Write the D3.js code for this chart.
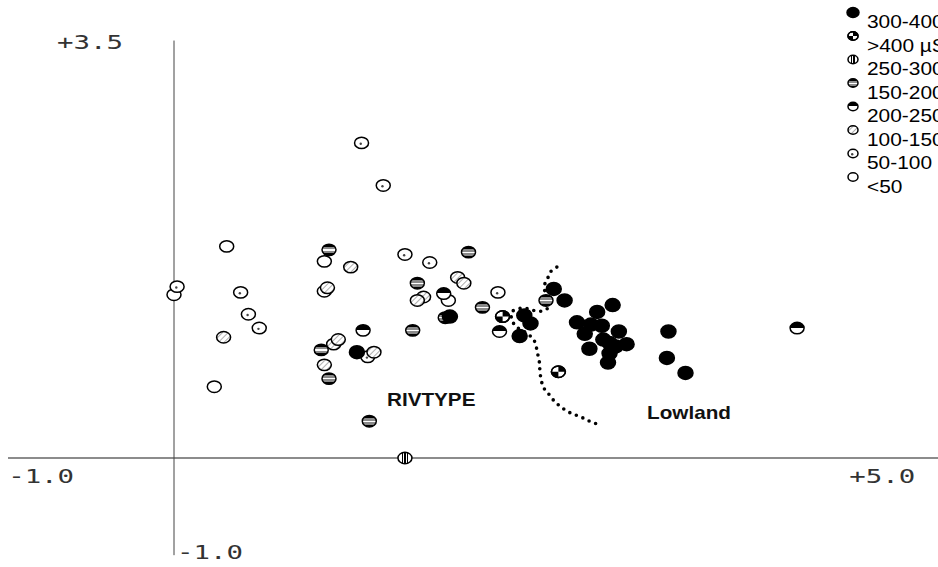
<!DOCTYPE html>
<html><head><meta charset="utf-8">
<script src="https://cdn.jsdelivr.net/npm/d3@7"></script>
<style>body{margin:0;background:#fff;overflow:hidden}</style>
</head><body>
<svg id="chart" width="938" height="567"></svg>
<script>
// ---- data ----
const classKeys = ["c300", "c400", "c250", "c150", "c200", "c100", "c50", "c0"];
const legendLabels = ["300-400", ">400 \u00b5S", "250-300", "150-200", "200-250", "100-150", "50-100", "<50"];

const pointX = [
  0.34, 0.00, 0.26, 0.97, 1.77,
  1.21, 1.35, 0.02, 0.43, 0.48, 0.55, 1.49, 1.65, 2.09, 0.97, 1.25,
  0.32, 1.14, 0.99, 1.83, 1.87, 1.61, 1.57, 1.03, 1.06, 1.29, 0.97,
  1.90, 1.57, 1.99, 1.75, 1.54, 2.40, 1.26, 1.00, 0.95, 1.00,
  1.74, 2.10, 1.22, 4.02,
  1.49,
  2.12, 2.48,
  1.18, 1.78, 2.45, 2.52, 2.26, 2.30, 2.23, 2.60, 2.73, 2.83, 2.69, 2.76, 2.87,
  2.65, 2.77, 2.68, 2.81, 2.92, 2.85, 2.81, 2.80, 3.19, 3.18, 3.30
];
const pointY = [
  1.84, 1.42, 0.62, 1.71, 1.37,
  2.74, 2.37, 1.49, 1.44, 1.25, 1.13, 1.77, 1.70, 1.44, 1.45, 0.88,
  1.05, 1.66, 1.48, 1.57, 1.52, 1.40, 1.37, 0.99, 1.03, 0.92, 0.81,
  1.79, 1.52, 1.31, 1.22, 1.11, 1.37, 0.32, 0.69, 0.94, 1.81,
  1.43, 1.10, 1.11, 1.13,
  0.00,
  1.23, 0.75,
  0.92, 1.23, 1.47, 1.37, 1.24, 1.17, 1.06, 1.18, 1.27, 1.33, 1.16, 1.15, 1.10,
  1.08, 1.03, 0.95, 1.00, 0.99, 0.97, 0.91, 0.83, 1.10, 0.87, 0.74
];
const pointClass = [
  "c0", "c0", "c0", "c0", "c0",
  "c50", "c50", "c50", "c50", "c50", "c50", "c50", "c50", "c50", "c50", "c50",
  "c100", "c100", "c100", "c100", "c100", "c100", "c100", "c100", "c100", "c100", "c100",
  "c150", "c150", "c150", "c150", "c150", "c150", "c150", "c150", "c150", "c150",
  "c200", "c200", "c200", "c200",
  "c250",
  "c400", "c400",
  "c300", "c300", "c300", "c300", "c300", "c300", "c300", "c300", "c300", "c300", "c300", "c300", "c300",
  "c300", "c300", "c300", "c300", "c300", "c300", "c300", "c300", "c300", "c300", "c300"
];

const boundaryX = [2.47, 2.43, 2.41, 2.39, 2.40, 2.43, 2.38, 2.33, 2.28, 2.23, 2.18, 2.18, 2.21, 2.27,
  2.32, 2.34, 2.35, 2.36, 2.36, 2.37, 2.38, 2.41, 2.45, 2.50, 2.56, 2.62, 2.68, 2.72];
const boundaryY = [1.66, 1.62, 1.56, 1.50, 1.41, 1.33, 1.28, 1.28, 1.30, 1.30, 1.27, 1.20, 1.14, 1.09,
  1.03, 0.95, 0.88, 0.81, 0.75, 0.68, 0.62, 0.57, 0.50, 0.44, 0.39, 0.36, 0.32, 0.30];

const axisLabels = ["+3.5", "-1.0", "+5.0", "-1.0"];
const siteLabels = ["RIVTYPE", "Lowland"];
const siteX = [1.374, 3.052];
const siteY = [0.452, 0.339];

// ---- drawing ----
const svg = d3.select("#chart");
const x = d3.scaleLinear().domain([-1, 5]).range([19, 949]);
const y = d3.scaleLinear().domain([-1, 3.5]).range([573, 55.5]);

const defs = svg.append("defs");
function hardGrad(id, stops, horiz) {
  const g = defs.append("linearGradient").attr("id", id)
    .attr("x1", 0).attr("y1", 0).attr("x2", horiz ? 1 : 0).attr("y2", horiz ? 0 : 1);
  stops.forEach(s => g.append("stop").attr("offset", s[0]).attr("stop-color", s[1]));
}
hardGrad("g150", [[0, "#000"], [0.22, "#000"], [0.22, "#8a8a8a"], [0.45, "#8a8a8a"], [0.45, "#fff"],
  [0.57, "#fff"], [0.57, "#8a8a8a"], [0.8, "#8a8a8a"], [0.8, "#000"], [1, "#000"]]);
hardGrad("g200", [[0, "#000"], [0.48, "#000"], [0.48, "#fff"], [1, "#fff"]]);
hardGrad("g250", [[0, "#fff"], [0.27, "#fff"], [0.27, "#000"], [0.37, "#000"], [0.37, "#fff"],
  [0.45, "#fff"], [0.45, "#000"], [0.55, "#000"], [0.55, "#fff"], [0.63, "#fff"], [0.63, "#000"],
  [0.73, "#000"], [0.73, "#fff"], [1, "#fff"]], true);
const pat = defs.append("pattern").attr("id", "hatch").attr("patternUnits", "userSpaceOnUse")
  .attr("width", 4).attr("height", 4).attr("patternTransform", "rotate(45)");
pat.append("rect").attr("width", 4).attr("height", 4).attr("fill", "#fff");
pat.append("line").attr("x1", 0).attr("y1", 0).attr("x2", 0).attr("y2", 4)
  .attr("stroke", "#8c8c8c").attr("stroke-width", 1.4);

const fillFor = {c300: "#000", c400: "#fff", c250: "url(#g250)", c150: "url(#g150)",
  c200: "url(#g200)", c100: "url(#hatch)", c50: "#fff", c0: "#fff"};

function drawSymbol(g, cls, cx, cy, rx, ry) {
  g.append("ellipse").attr("cx", cx).attr("cy", cy).attr("rx", rx).attr("ry", ry)
    .attr("fill", fillFor[cls]).attr("stroke", "#000").attr("stroke-width", 1.5);
  if (cls === "c50") {
    g.append("circle").attr("cx", cx - 0.8).attr("cy", cy + 0.8).attr("r", 1.2).attr("fill", "#444");
  }
  if (cls === "c400") {
    g.append("path").attr("d", `M${cx},${cy}L${cx + rx},${cy}A${rx},${ry} 0 0 0 ${cx},${cy - ry}Z`).attr("fill", "#000");
    g.append("path").attr("d", `M${cx},${cy}L${cx - rx},${cy}A${rx},${ry} 0 0 0 ${cx},${cy + ry}Z`).attr("fill", "#000");
    g.append("ellipse").attr("cx", cx).attr("cy", cy).attr("rx", rx).attr("ry", ry)
      .attr("fill", "none").attr("stroke", "#000").attr("stroke-width", 1.5);
  }
}

// axes
svg.append("line").attr("x1", x(-1.071)).attr("x2", x(4.93)).attr("y1", y(0)).attr("y2", y(0))
  .attr("stroke", "#666").attr("stroke-width", 1.5);
svg.append("line").attr("x1", x(0)).attr("x2", x(0)).attr("y1", y(3.63)).attr("y2", y(-0.845))
  .attr("stroke", "#444").attr("stroke-width", 1);

const monoFont = "'DejaVu Sans Mono', monospace";
function monoLabel(txt, px, py, anchor) {
  svg.append("text").attr("transform", `translate(${px},${py}) scale(1.37,1)`)
    .attr("text-anchor", anchor).attr("font-family", monoFont).attr("font-size", 20)
    .attr("fill", "#333").text(txt);
}
monoLabel(axisLabels[0], x(0) - 51, y(3.5) - 6.5, "end");
monoLabel(axisLabels[1], x(-1.07), y(0) + 25, "start");
monoLabel(axisLabels[2], x(4.93) - 23, y(0) + 25, "end");
monoLabel(axisLabels[3], x(0) + 3, y(-0.88), "start");

// boundary dotted line
const bData = boundaryX.map((v, i) => [v, boundaryY[i]]);
svg.append("path").datum(bData)
  .attr("d", d3.line().x(d => x(d[0])).y(d => y(d[1])).curve(d3.curveCatmullRom))
  .attr("fill", "none").attr("stroke", "#000").attr("stroke-width", 3.6)
  .attr("stroke-linecap", "round").attr("stroke-dasharray", "0 7");

// points
const pg = svg.append("g");
pointX.forEach((v, i) => {
  const c = pointClass[i];
  const big = c === "c300";
  drawSymbol(pg.append("g"), c, x(v), y(pointY[i]), big ? 7.5 : 7, big ? 6.5 : 5.7);
});

// site labels
siteLabels.forEach((t, i) => {
  svg.append("text").attr("transform", `translate(${x(siteX[i])},${y(siteY[i])}) scale(1.15,1)`)
    .attr("font-family", "'Liberation Sans', Arial, sans-serif").attr("font-weight", "bold")
    .attr("font-size", 18).attr("fill", "#111").text(t);
});

// legend
const lg = svg.append("g");
legendLabels.forEach((t, i) => {
  const base = 28 + i * 23.5;
  const big = classKeys[i] === "c300";
  drawSymbol(lg.append("g"), classKeys[i], 853, base - 15.5, big ? 6 : 5, big ? 5 : 4.2);
  lg.append("text").attr("transform", `translate(867,${base}) scale(1.13,1)`)
    .attr("font-family", "'Liberation Sans', Arial, sans-serif").attr("font-size", 18.5)
    .attr("fill", "#000").text(t);
});
</script>
</body></html>
